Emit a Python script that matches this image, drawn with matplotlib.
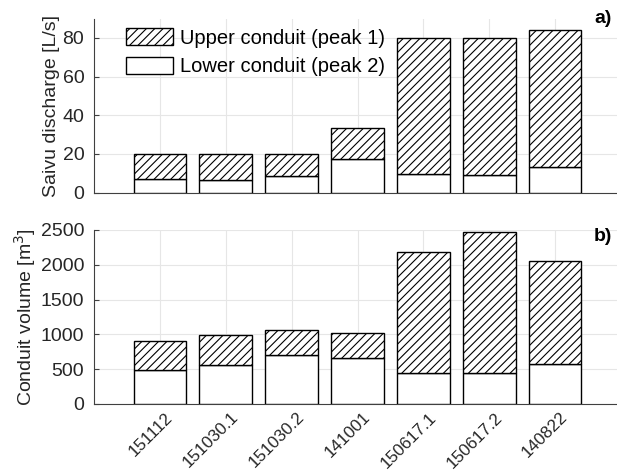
import matplotlib
matplotlib.use('Agg')
import matplotlib.pyplot as plt
import matplotlib.transforms as mtransforms
from matplotlib.patches import Patch
import numpy as np

plt.rcParams['font.family'] = ['Liberation Sans', 'DejaVu Sans']
plt.rcParams['hatch.linewidth'] = 0.8

# Event labels
events = ['151112', '151030.1', '151030.2', '141001', '150617.1', '150617.2', '140822']

# Saivu discharge [L/s]: lower conduit (peak 2) and upper conduit part (peak 1)
discharge_lower = [7.2, 6.7, 8.7, 17.3, 9.6, 9.1, 13.4]
discharge_upper = [12.8, 13.3, 11.3, 15.9, 70.4, 70.9, 70.6]

# Conduit volume [m3]
volume_lower = [495, 567, 710, 667, 448, 448, 571]
volume_upper = [405, 419, 352, 347, 1733, 2028, 1477]

text_col = '#262626'
grid_col = '#e6e6e6'
fs = 14

fig = plt.figure(figsize=(6.17, 4.72), dpi=100)
ax1 = fig.add_axes([94 / 617, 1 - 192.7 / 472, 527 / 617, 174.2 / 472])
ax2 = fig.add_axes([94 / 617, 1 - 404 / 472, 527 / 617, 174 / 472])

x = np.arange(1, len(events) + 1)


def draw(ax, lower, upper, ylim, yticks):
    ax.bar(x, lower, width=0.8, color='white', edgecolor='black', linewidth=1.0, zorder=3)
    ax.bar(x, upper, width=0.8, bottom=lower, color='white', edgecolor='black',
           hatch='////', linewidth=1.0, zorder=3)
    ax.set_xlim(0, 8)
    ax.set_ylim(*ylim)
    ax.set_yticks(yticks)
    ax.set_xticks(x)
    ax.grid(True, color=grid_col, linewidth=0.8, zorder=0)
    ax.set_axisbelow(True)
    for s in ['top', 'right']:
        ax.spines[s].set_visible(False)
    for s in ['left', 'bottom']:
        ax.spines[s].set_color('#404040')
        ax.spines[s].set_linewidth(0.8)
    ax.tick_params(direction='in', length=3.5, width=0.8, color='#404040',
                   labelsize=fs, labelcolor=text_col)
    ax.tick_params(axis='y', pad=7)


draw(ax1, discharge_lower, discharge_upper, (0, 90), [0, 20, 40, 60, 80])
draw(ax2, volume_lower, volume_upper, (0, 2500), [0, 500, 1000, 1500, 2000, 2500])

ax1.set_xticklabels([])
ax2.tick_params(axis='x', pad=4, labelsize=12.3)
ax2.set_xticklabels(events, rotation=45, ha='right', va='top', rotation_mode='anchor')
shift = mtransforms.ScaledTranslation(5 / 100, 0, fig.dpi_scale_trans)
for lab in ax2.get_xticklabels():
    lab.set_transform(lab.get_transform() + shift)

ax1.set_ylabel('Saivu discharge [L/s]', fontsize=fs, color=text_col, labelpad=2)
ax2.set_ylabel('Conduit volume [m$^3$]', fontsize=fs, color=text_col, labelpad=2)

ax1.text(0.983, 1.0, 'a)', transform=ax1.transAxes, ha='right', va='center',
         fontsize=fs, fontweight='bold')
ax2.text(0.983, 0.96, 'b)', transform=ax2.transAxes, ha='right', va='center',
         fontsize=fs, fontweight='bold')

legend_elements = [Patch(facecolor='white', edgecolor='black', hatch='////', label='Upper conduit (peak 1)'),
                   Patch(facecolor='white', edgecolor='black', label='Lower conduit (peak 2)')]
ax1.legend(handles=legend_elements, loc='upper left', bbox_to_anchor=(0.061, 0.945),
           frameon=False, fontsize=14.5, handlelength=2.35, handleheight=0.95,
           handletextpad=0.3, labelspacing=0.45, borderpad=0, borderaxespad=0)

fig.savefig('out.png', dpi=100)
